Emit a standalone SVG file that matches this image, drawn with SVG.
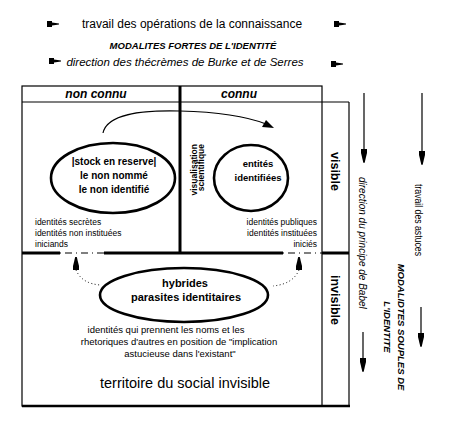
<svg xmlns="http://www.w3.org/2000/svg" width="450" height="423" viewBox="0 0 450 423">
<style>
text{font-family:"Liberation Sans",Arial,sans-serif;fill:#000}
.b{font-weight:bold}
.i{font-style:italic}
.thin{fill:none;stroke:#000;stroke-width:1.2}
.thick{fill:none;stroke:#000;stroke-width:3}
.ell{fill:#fff;stroke:#000;stroke-width:2.6}
.ah{fill:#000}
</style>
<defs>
<path id="flag" d="M0,-3 L5,-3 L5,-1.6 L12,-0.4 L12,0.4 L5,1.6 L5,3 L0,3Z"/>
<path id="down" d="M-3,-13 L3,-13 L3,-9 L0.8,0 L-0.8,0 L-3,-9Z"/>
</defs>
<rect width="450" height="423" fill="#fff"/>

<g id="titles">
<use href="#flag" x="47" y="24"/>
<use href="#flag" x="334" y="24"/>
<text x="192" y="28" font-size="12" text-anchor="middle">travail des opérations de la connaissance</text>
<text x="193" y="48.5" font-size="9.5" class="b i" text-anchor="middle">MODALITES FORTES DE L'IDENTITÉ</text>
<use href="#flag" x="49" y="61"/>
<use href="#flag" x="331" y="64"/>
<text x="185" y="66" font-size="11.5" class="i" text-anchor="middle">direction des thécrèmes de Burke et de Serres</text>
</g>

<g id="frame">
<rect x="22" y="86" width="300" height="320" class="thin"/>
<line x1="22" y1="102" x2="349" y2="102" class="thin"/>
<line x1="349" y1="102" x2="349" y2="406" class="thin"/>
<line x1="22" y1="406" x2="350" y2="406" stroke="#000" stroke-width="2.4"/>
<line x1="180" y1="86" x2="180" y2="254" class="thick"/>
<line x1="22" y1="253" x2="60" y2="253" class="thick"/>
<line x1="104" y1="253" x2="283" y2="253" class="thick"/>
<line x1="322" y1="253" x2="349" y2="253" class="thick"/>
<line x1="60" y1="253" x2="104" y2="253" class="thin" stroke-dasharray="1,4,7,4"/>
<line x1="283" y1="253" x2="322" y2="253" class="thin" stroke-dasharray="1,4,7,4"/>
<text x="96" y="98" font-size="12" class="b i" text-anchor="middle">non connu</text>
<text x="239" y="98" font-size="12" class="b i" text-anchor="middle">connu</text>
</g>

<g id="connectors">
<path d="M103,133 C107,114 140,110 180,111 C220,112 248,117 266,124" class="thin"/>
<path d="M274,128 L262,127 L266,120Z" class="ah"/>
<path d="M76,270 Q82,284 101,285" fill="none" stroke="#000" stroke-width="1" stroke-dasharray="1,2.5"/>
<path d="M299,270 Q293,284 273,286" fill="none" stroke="#000" stroke-width="1" stroke-dasharray="1,2.5"/>
<use href="#down" transform="translate(76,257) rotate(180)"/>
<use href="#down" transform="translate(299,257) rotate(180)"/>
<line x1="364" y1="93" x2="364" y2="163" class="thin"/>
<use href="#down" x="364" y="162"/>
<line x1="422" y1="93" x2="422" y2="165" class="thin"/>
<use href="#down" x="422" y="164"/>
<line x1="363" y1="332" x2="363" y2="372" class="thin"/>
<use href="#down" x="363" y="371"/>
<line x1="421" y1="307" x2="421" y2="347" class="thin"/>
<use href="#down" x="421" y="346"/>
</g>

<g id="stock">
<ellipse cx="113" cy="178" rx="62" ry="35" class="ell"/>
<text x="114" y="165" font-size="10" class="b" text-anchor="middle">|stock en reserve|</text>
<text x="114" y="179" font-size="10" class="b" text-anchor="middle">le non nommé</text>
<text x="114" y="193" font-size="10" class="b" text-anchor="middle">le non identifié</text>
</g>

<g id="entites">
<ellipse cx="251" cy="178" rx="37" ry="33" class="ell"/>
<text x="258" y="167" font-size="9.5" class="b" text-anchor="middle">entités</text>
<text x="258" y="181" font-size="9.5" class="b" text-anchor="middle">identifiées</text>
</g>

<g id="hybrides">
<ellipse cx="184" cy="295" rx="84" ry="27" class="ell"/>
<text x="185" y="287" font-size="11" class="b" text-anchor="middle">hybrides</text>
<text x="186" y="301" font-size="11" class="b" text-anchor="middle">parasites identitaires</text>
</g>

<g id="labels">
<text transform="translate(197,144) rotate(-90)" font-size="8.5" class="b" text-anchor="end">visualisation</text>
<text transform="translate(204,144) rotate(-90)" font-size="8.5" class="b" text-anchor="end">scientifique</text>
<text x="35" y="225" font-size="8.5">identités secrètes</text>
<text x="35" y="236" font-size="8.5">identités non instituées</text>
<text x="35" y="247" font-size="8.5">iniciands</text>
<text x="317" y="225" font-size="8.5" text-anchor="end">identités publiques</text>
<text x="317" y="236" font-size="8.5" text-anchor="end">identités instituées</text>
<text x="317" y="247" font-size="8.5" text-anchor="end">iniciés</text>
<text x="166" y="333" font-size="9.5" text-anchor="middle">identités qui prennent les noms et les</text>
<text x="179" y="345" font-size="9.5" text-anchor="middle">rhetoriques d'autres en position de "implication</text>
<text x="180" y="357" font-size="9.5" text-anchor="middle">astucieuse dans l'existant"</text>
<text x="185" y="388" font-size="14.5" text-anchor="middle">territoire du social invisible</text>
<text transform="translate(331,152) rotate(90)" font-size="12.5" class="b">visible</text>
<text transform="translate(331,275) rotate(90)" font-size="12.5" class="b">invisible</text>
<text transform="translate(359,177) rotate(90)" font-size="10" class="i">direction du principe de Babel</text>
<text transform="translate(415,184) rotate(90)" font-size="11" textLength="72" lengthAdjust="spacingAndGlyphs">travail des astuces</text>
<text transform="translate(398,327) rotate(90)" font-size="9.5" class="b i" text-anchor="middle">MODALIDTES SOUPLES DE</text>
<text transform="translate(384,327) rotate(90)" font-size="9.5" class="b i" text-anchor="middle">L'IDENTITE</text>
</g>
</svg>
